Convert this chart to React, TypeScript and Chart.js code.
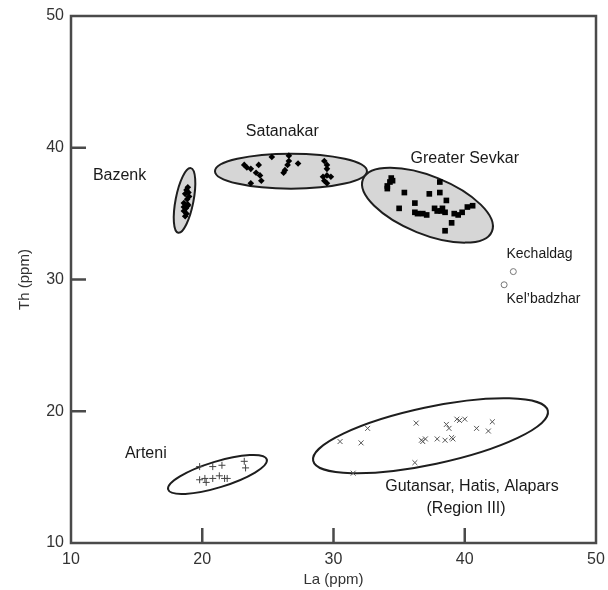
import React, { useEffect, useRef } from "react";
import { Chart, registerables } from "chart.js";
Chart.register(...registerables);

// ---- data (La ppm, Th ppm) ----
const bazenkLa = [18.9, 18.8, 18.95, 18.7, 19.0, 18.85, 18.6, 18.9, 18.6, 18.75, 18.9, 18.6, 18.8, 18.7];
const bazenkTh = [37.0, 36.8, 36.6, 36.5, 36.3, 36.1, 35.8, 35.7, 35.5, 35.4, 35.6, 35.2, 35.0, 34.8];

const satanakarLa = [23.2, 23.4, 23.7, 24.3, 24.1, 24.4, 24.5, 23.7, 25.3, 26.6, 26.6, 26.5, 26.3, 26.2, 27.3, 29.3, 29.5, 29.5, 29.2, 29.3, 29.5, 29.8, 29.5];
const satanakarTh = [38.7, 38.5, 38.4, 38.7, 38.1, 37.9, 37.5, 37.3, 39.3, 39.4, 39.0, 38.7, 38.3, 38.1, 38.8, 39.0, 38.7, 38.4, 37.8, 37.5, 37.3, 37.8, 37.9];

const sevkarLa = [34.4, 34.3, 34.1, 34.1, 34.5, 35.4, 38.1, 38.1, 37.3, 38.6, 36.2, 35.0, 36.2, 36.4, 36.8, 37.1, 37.7, 37.9, 38.2, 38.5, 38.3, 39.2, 39.5, 39.8, 40.2, 40.6, 39.0, 38.5];
const sevkarTh = [37.7, 37.4, 37.1, 36.9, 37.5, 36.6, 37.4, 36.6, 36.5, 36.0, 35.8, 35.4, 35.1, 35.0, 35.0, 34.9, 35.4, 35.2, 35.2, 35.1, 35.4, 35.0, 34.9, 35.1, 35.5, 35.6, 34.3, 33.7];

const arteniLa = [19.8, 20.8, 21.5, 23.2, 23.3, 19.8, 20.2, 20.3, 20.8, 21.3, 21.7, 21.9];
const arteniTh = [15.8, 15.8, 15.9, 16.2, 15.7, 14.8, 14.9, 14.6, 14.9, 15.1, 14.9, 14.9];

const gutansarLa = [30.5, 32.1, 32.6, 36.3, 38.6, 38.8, 39.4, 39.6, 40.0, 40.9, 41.8, 42.1, 36.7, 37.0, 36.8, 37.9, 38.5, 39.0, 39.1, 36.2, 31.5];
const gutansarTh = [17.7, 17.6, 18.7, 19.1, 19.0, 18.7, 19.4, 19.3, 19.4, 18.7, 18.5, 19.2, 17.8, 17.9, 17.7, 17.9, 17.8, 18.0, 17.9, 16.1, 15.3];

const otherLa = [43.7, 43.0];
const otherTh = [30.6, 29.6];

// ---- field ellipses (data units) ----
const ellipseLa = [18.65, 26.76, 37.16, 21.16, 37.39];
const ellipseTh = [36.0, 38.22, 35.64, 15.2, 18.14];
const ellipseRadLa = [0.68, 5.79, 5.3, 3.93, 9.14];
const ellipseRadTh = [2.5, 1.33, 2.2, 0.98, 2.17];
const ellipseTiltDeg = [11, 0, 22, -17, -12];
const ellipseFilled = [true, true, true, false, false];

// ---- text labels ----
const labelText = ["Satanakar", "Greater Sevkar", "Bazenk", "Kechaldag", "Kel\u2019badzhar", "Arteni", "Gutansar, Hatis, Alapars", "(Region III)"];
const labelLa = [26.1, 40.0, 13.7, 45.7, 46.0, 15.7, 40.55, 40.1];
const labelTh = [41.2, 39.2, 37.9, 31.9, 28.5, 16.8, 14.25, 12.6];
const labelSize = [16, 16, 16, 14, 14, 16, 16, 16];

const innerTicks = [20, 30, 40];

const toPts = (xs: number[], ys: number[]) => xs.map((x, i) => ({ x, y: ys[i] }));

const FONT = "'Liberation Sans', Arial, sans-serif";

const ellipsePlugin = {
  id: "ellipses",
  beforeDatasetsDraw(chart: any) {
    const { ctx, scales } = chart;
    const xs = scales.x, ys = scales.y;
    ctx.save();
    for (let i = 0; i < ellipseLa.length; i++) {
      const cx = xs.getPixelForValue(ellipseLa[i]);
      const cy = ys.getPixelForValue(ellipseTh[i]);
      const rx = Math.abs(xs.getPixelForValue(ellipseLa[i] + ellipseRadLa[i]) - cx);
      const ry = Math.abs(ys.getPixelForValue(ellipseTh[i] + ellipseRadTh[i]) - cy);
      ctx.beginPath();
      ctx.ellipse(cx, cy, rx, ry, (ellipseTiltDeg[i] * Math.PI) / 180, 0, Math.PI * 2);
      if (ellipseFilled[i]) {
        ctx.fillStyle = "#d6d6d6";
        ctx.fill();
      }
      ctx.lineWidth = 2;
      ctx.strokeStyle = "#1e1e1e";
      ctx.stroke();
    }
    ctx.restore();
  },
};

const framePlugin = {
  id: "frame",
  afterDraw(chart: any) {
    const { ctx, chartArea: a, scales } = chart;
    ctx.save();
    ctx.strokeStyle = "#4a4a4a";
    ctx.lineWidth = 2.5;
    ctx.strokeRect(a.left, a.top, a.right - a.left, a.bottom - a.top);
    ctx.beginPath();
    for (const v of innerTicks) {
      const px = scales.x.getPixelForValue(v);
      ctx.moveTo(px, a.bottom);
      ctx.lineTo(px, a.bottom - 15);
      const py = scales.y.getPixelForValue(v);
      ctx.moveTo(a.left, py);
      ctx.lineTo(a.left + 15, py);
    }
    ctx.stroke();
    ctx.fillStyle = "#1a1a1a";
    ctx.textAlign = "center";
    ctx.textBaseline = "middle";
    for (let i = 0; i < labelText.length; i++) {
      ctx.font = `${labelSize[i]}px ${FONT}`;
      ctx.fillText(labelText[i], scales.x.getPixelForValue(labelLa[i]), scales.y.getPixelForValue(labelTh[i]));
    }
    ctx.restore();
  },
};

export default function App() {
  const ref = useRef<HTMLCanvasElement | null>(null);
  useEffect(() => {
    if (!ref.current) return;
    const chart = new Chart(ref.current, {
      type: "scatter",
      data: {
        datasets: [
          { label: "Bazenk", data: toPts(bazenkLa, bazenkTh), pointStyle: "rectRot", pointRadius: 3.3, backgroundColor: "#000", borderColor: "#000", borderWidth: 0 },
          { label: "Satanakar", data: toPts(satanakarLa, satanakarTh), pointStyle: "rectRot", pointRadius: 3.3, backgroundColor: "#000", borderColor: "#000", borderWidth: 0 },
          { label: "Greater Sevkar", data: toPts(sevkarLa, sevkarTh), pointStyle: "rect", pointRadius: 4, backgroundColor: "#000", borderColor: "#000", borderWidth: 0 },
          { label: "Arteni", data: toPts(arteniLa, arteniTh), pointStyle: "cross", pointRadius: 3.5, backgroundColor: "#444", borderColor: "#444", borderWidth: 1 },
          { label: "Gutansar", data: toPts(gutansarLa, gutansarTh), pointStyle: "crossRot", pointRadius: 3.5, backgroundColor: "#555", borderColor: "#555", borderWidth: 1 },
          { label: "Other", data: toPts(otherLa, otherTh), pointStyle: "circle", pointRadius: 3, backgroundColor: "#fff", borderColor: "#777", borderWidth: 1 },
        ],
      },
      options: {
        animation: false,
        responsive: false,
        layout: { padding: { top: 16, right: 12, left: 0, bottom: 0 } },
        plugins: { legend: { display: false }, tooltip: { enabled: false } },
        scales: {
          x: {
            type: "linear",
            min: 10,
            max: 50,
            grid: { display: false, drawTicks: false },
            border: { display: false },
            ticks: { stepSize: 10, padding: 7, color: "#333", font: { family: FONT, size: 16 } },
            title: { display: true, text: "La (ppm)", color: "#333", font: { family: FONT, size: 15 }, padding: { top: 0, bottom: 1 } },
            afterFit: (s: any) => { s.height = 47; s.paddingRight = 0; s.paddingLeft = 0; },
          },
          y: {
            type: "linear",
            min: 10,
            max: 50,
            grid: { display: false, drawTicks: false },
            border: { display: false },
            ticks: { stepSize: 10, padding: 7, color: "#333", font: { family: FONT, size: 16 } },
            title: { display: true, text: "Th (ppm)", color: "#333", font: { family: FONT, size: 15 }, padding: { top: 16, bottom: 0 } },
            afterFit: (s: any) => { s.width = 71; s.paddingTop = 0; s.paddingBottom = 0; },
          },
        },
      },
      plugins: [ellipsePlugin, framePlugin],
    });
    return () => chart.destroy();
  }, []);
  return (
    <div style={{ position: "absolute", left: 0, top: 0, width: 608, height: 590 }}>
      <canvas ref={ref} width={608} height={590} />
    </div>
  );
}
